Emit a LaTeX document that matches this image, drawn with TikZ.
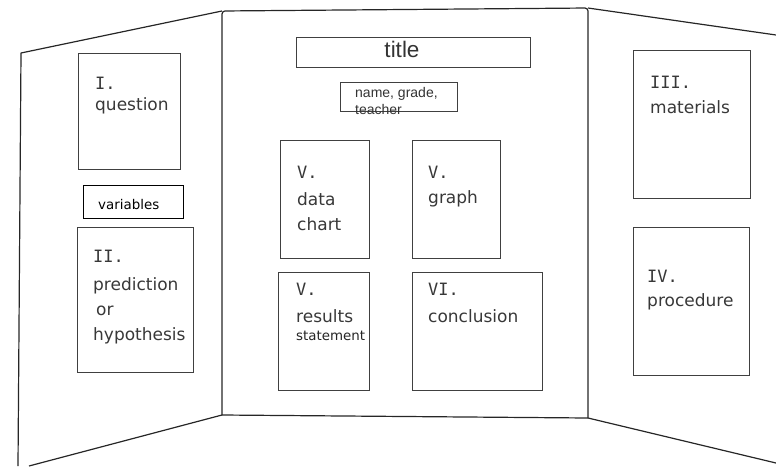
\documentclass[tikz,border=0pt]{standalone}
\usepackage{fontspec}
\setmainfont{DejaVu Sans}
\newfontfamily\arialfont{Liberation Sans}
\newfontfamily\numfont{DejaVu Sans Mono}
\begin{document}
\begin{tikzpicture}[x=1pt,y=-1pt,
  panel/.style={draw=black!85, line width=1.2pt, line join=round},
  box/.style={draw=black!75, line width=1.1pt, inner sep=0pt, anchor=north west},
  blackbox/.style={draw=black, line width=1.4pt, inner sep=0pt, anchor=north west},
  lbl/.style={anchor=base west, inner sep=0pt, text=black!78, font=\fontsize{17}{19}\selectfont},
  num/.style={anchor=base west, inner sep=0pt, text=black!78, font=\numfont\fontsize{17}{19}\selectfont},
  small/.style={anchor=base west, inner sep=0pt, text=black!85, font=\fontsize{13.4}{15}\selectfont},
  arial/.style={inner sep=0pt, text=black!80, font=\arialfont\fontsize{14}{16}\selectfont}]
\useasboundingbox (0,0) rectangle (776,466);
% panel corners
\coordinate (LT) at (21,53);
\coordinate (LB) at (18,466);
\coordinate (LD) at (29,466);
\coordinate (CTL) at (222,11);
\coordinate (CTR) at (588,8);
\coordinate (CBL) at (222,415);
\coordinate (CBR) at (588,418);
\coordinate (RT) at (776,35);
\coordinate (RB) at (776,463);
% left panel
\draw[panel] (LB) -- (LT) -- (CTL);
\draw[panel] (LD) -- (CBL);
% centre panel
\draw[panel, rounded corners=3pt] (CBL) -- (CTL) -- (CTR) -- (CBR);
\draw[panel] (CBL) -- (CBR);
% right panel
\draw[panel] (CTR) -- (RT);
\draw[panel] (CBR) -- (RB);
% left panel boxes
\node[box, minimum width=102pt, minimum height=116pt] (qbox) at (78,53) {};
\node[num] (qn) at (95,89) {I.};
\node[lbl] (qt) at (95,110) {question};
\node[blackbox, minimum width=100pt, minimum height=33pt] (varbox) at (83,185) {};
\node[small, text=black] (vart) at (98,209) {variables};
\node[box, minimum width=116pt, minimum height=145pt] (hbox) at (77,227) {};
\node[num] (hn) at (93,262) {II.};
\node[lbl] (ht1) at (93,290) {prediction};
\node[lbl] (ht2) at (96,315) {or};
\node[lbl] (ht3) at (93,340) {hypothesis};
% centre panel boxes
\node[box, minimum width=234pt, minimum height=30pt] (tbox) at (296,37) {};
\node[arial, anchor=base, font=\arialfont\fontsize{22.5}{24}\selectfont] (tt) at (402,57) {title};
\node[box, minimum width=117pt, minimum height=29pt] (nbox) at (340,82) {};
\node[arial, anchor=base west] (nt1) at (355,97) {name, grade,};
\node[arial, anchor=base west] (nt2) at (355,114) {teacher};
\node[box, minimum width=89pt, minimum height=118pt] (dbox) at (280,140) {};
\node[num] (dn) at (297,178) {V.};
\node[lbl] (dt1) at (297,205) {data};
\node[lbl] (dt2) at (297,230) {chart};
\node[box, minimum width=88pt, minimum height=118pt] (gbox) at (412,140) {};
\node[num] (gn) at (428,178) {V.};
\node[lbl] (gt) at (428,203) {graph};
\node[box, minimum width=91pt, minimum height=118pt] (rbox) at (278,272) {};
\node[num] (rn) at (296,295) {V.};
\node[lbl] (rt1) at (296,322) {results};
\node[small] (rt2) at (296,340) {statement};
\node[box, minimum width=130pt, minimum height=118pt] (cbox) at (412,272) {};
\node[num] (cn) at (428,295) {VI.};
\node[lbl] (ct) at (428,322) {conclusion};
% right panel boxes
\node[box, minimum width=117pt, minimum height=148pt] (mbox) at (633,50) {};
\node[num] (mn) at (650,88) {III.};
\node[lbl] (mt) at (650,113) {materials};
\node[box, minimum width=116pt, minimum height=148pt] (pbox) at (633,227) {};
\node[num] (pn) at (647,282) {IV.};
\node[lbl] (pt) at (647,306) {procedure};
\end{tikzpicture}
\end{document}
